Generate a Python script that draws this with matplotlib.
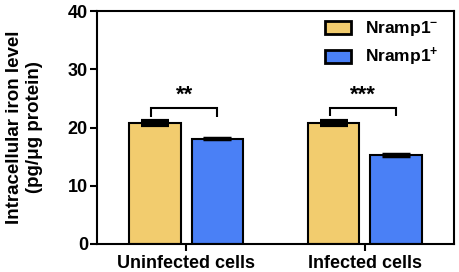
import matplotlib
matplotlib.use("Agg")
import matplotlib.pyplot as plt
import numpy as np

categories = ["Uninfected cells", "Infected cells"]
series_names = ["Nramp1$^{-}$", "Nramp1$^{+}$"]
nramp_neg = [20.7, 20.8]
nramp_neg_err = [0.35, 0.35]
nramp_pos = [18.1, 15.3]
nramp_pos_err = [0.12, 0.12]
sig_labels = ["**", "***"]
yticks = [0, 10, 20, 30, 40]

plt.rcParams['font.family'] = ['Liberation Sans', 'DejaVu Sans']
plt.rcParams['font.weight'] = 'bold'
plt.rcParams['mathtext.fontset'] = 'custom'
plt.rcParams['mathtext.bf'] = 'Liberation Sans:bold'
plt.rcParams['mathtext.rm'] = 'Liberation Sans:bold'
plt.rcParams['mathtext.default'] = 'bf'

fig = plt.figure(figsize=(4.59, 2.72), dpi=100)
ax = fig.add_axes([97/459, 1-244/272, (454-97)/459, (244-11)/272])

x = np.arange(len(categories))
w = 0.29
off = 0.175
yellow = "#F2CC6E"
blue = "#4A80F6"
ax.bar(x - off, nramp_neg, w, color=yellow, edgecolor="black", linewidth=1.5,
       label=series_names[0], zorder=2)
ax.bar(x + off, nramp_pos, w, color=blue, edgecolor="black", linewidth=1.5,
       label=series_names[1], zorder=2)
ax.errorbar(x - off, nramp_neg, yerr=nramp_neg_err, fmt='none', ecolor='black',
            elinewidth=2, capsize=10, capthick=3, zorder=3)
ax.errorbar(x + off, nramp_pos, yerr=nramp_pos_err, fmt='none', ecolor='black',
            elinewidth=2, capsize=10, capthick=2.5, zorder=3)

for i in range(len(categories)):
    top = max(nramp_neg[i], nramp_pos[i]) + 2.6
    x0, x1 = x[i] - off - 0.02, x[i] + off
    ax.plot([x0, x0, x1, x1], [top - 1.5, top, top, top - 1.5], color='black',
            lw=1.5, solid_capstyle='butt', solid_joinstyle='miter')
    ax.text((x0 + x1) / 2, top + 0.4, sig_labels[i], ha='center', va='bottom',
            fontsize=16, fontweight='bold')

ax.set_xlim(-0.5, 1.5)
ax.set_ylim(0, 40)
ax.set_yticks(yticks)
ax.set_xticks(x)
ax.set_xticklabels(categories, fontsize=13, fontweight='bold')
ax.tick_params(axis='y', labelsize=13, width=1.5, length=5, direction='out', pad=1.5)
ax.tick_params(axis='x', width=1.5, length=5, direction='out', pad=3)
for lab in ax.get_yticklabels():
    lab.set_fontweight('bold')
for s in ax.spines.values():
    s.set_linewidth(1.5)
ax.set_ylabel("Intracellular iron level\n(pg/\u03bcg protein)", fontsize=13.5,
              fontweight='bold', labelpad=18)

leg = ax.legend(loc='upper right', frameon=False, fontsize=12.5,
                handlelength=1.5, handleheight=0.75, borderaxespad=0.0,
                borderpad=0.3, labelspacing=0.45, handletextpad=0.8,
                bbox_to_anchor=(444/459, 1-14/272), bbox_transform=fig.transFigure)
for p in leg.get_patches():
    p.set_linewidth(2)

fig.savefig("out.png", dpi=100)
